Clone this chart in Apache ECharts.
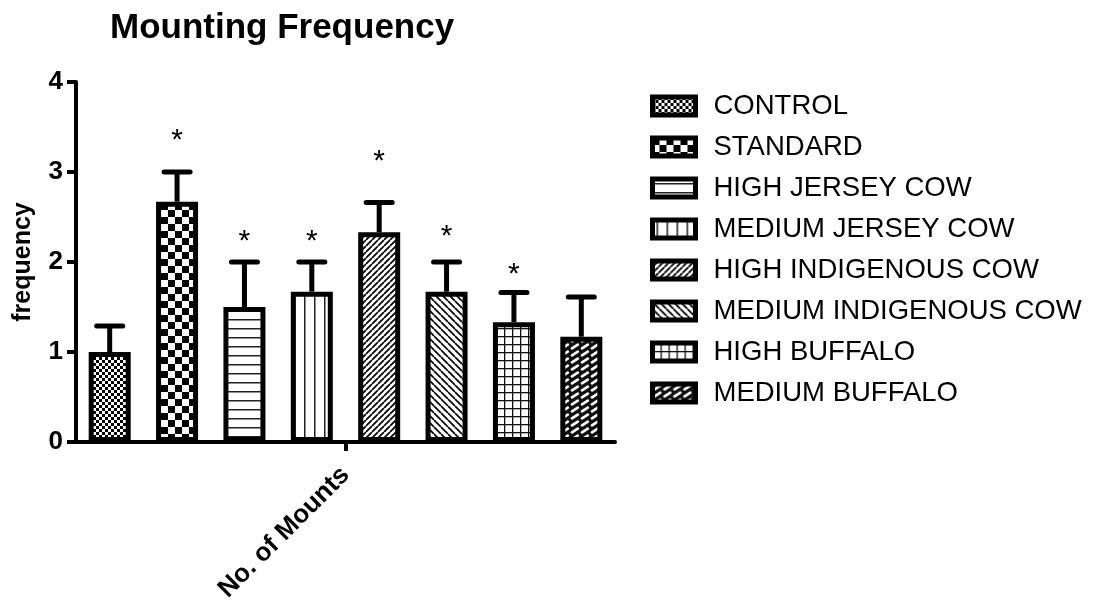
<!DOCTYPE html>
<html>
<head>
<meta charset="utf-8">
<title>Mounting Frequency</title>
<script src="https://cdn.jsdelivr.net/npm/echarts@6/dist/echarts.min.js"></script>
<style>
  html, body { margin: 0; padding: 0; background: #fff; }
  #chart { width: 1103px; height: 605px; }
</style>
</head>
<body>
<div id="chart"></div>
<script>
// Treatment groups, in plotting order
const groups = [
  'CONTROL', 'STANDARD', 'HIGH JERSEY COW', 'MEDIUM JERSEY COW',
  'HIGH INDIGENOUS COW', 'MEDIUM INDIGENOUS COW', 'HIGH BUFFALO', 'MEDIUM BUFFALO'
];
// Mean number of mounts per group
const means = [1.0, 2.67, 1.5, 1.67, 2.33, 1.67, 1.33, 1.17];
// Upper error (SEM) per group
const errors = [0.29, 0.33, 0.5, 0.33, 0.33, 0.33, 0.33, 0.44];
// Height of the significance marker above each group (null = not significant)
const starLevels = [null, 3.43, 2.30, 2.30, 3.19, 2.36, 1.94, null];
// Axis labels and ticks
const xCategory = ['No. of Mounts'];
const yTicks = [0, 1, 2, 3, 4];

const FONT = 'Liberation Sans, Arial, Helvetica, sans-serif';

// Small black-and-white hatch tiles used as bar fills
function tile(w, h, draw, bg) {
  const c = document.createElement('canvas');
  c.width = w; c.height = h;
  const g = c.getContext('2d');
  g.fillStyle = bg || '#fff';
  g.fillRect(0, 0, w, h);
  draw(g, w, h);
  return c;
}
function lines(g, segs, width, color) {
  g.strokeStyle = color || '#000';
  g.lineWidth = width;
  g.beginPath();
  segs.forEach(s => { g.moveTo(s[0], s[1]); g.lineTo(s[2], s[3]); });
  g.stroke();
}
const fills = [
  // fine checker
  tile(6, 6, g => { g.fillStyle = '#000'; g.fillRect(0, 0, 3, 3); g.fillRect(3, 3, 3, 3); }),
  // coarse checker
  tile(14, 14, g => { g.fillStyle = '#000'; g.fillRect(0, 0, 7, 7); g.fillRect(7, 7, 7, 7); }),
  // horizontal lines
  tile(9, 9, g => { g.fillStyle = '#222'; g.fillRect(0, 4, 9, 1.5); }),
  // vertical lines
  tile(10, 10, g => { g.fillStyle = '#222'; g.fillRect(4, 0, 1.5, 10); }),
  // forward diagonal
  tile(6, 6, g => lines(g, [[-6, 6, 0, 0], [0, 6, 6, 0], [6, 6, 12, 0]], 1.7)),
  // backward diagonal
  tile(7, 7, g => lines(g, [[-7, 0, 0, 7], [0, 0, 7, 7], [7, 0, 14, 7]], 1.7)),
  // square grid
  tile(8, 8, g => { g.fillStyle = '#111'; g.fillRect(0, 0, 8, 1.3); g.fillRect(0, 0, 1.3, 8); }),
  // staggered white dashes on black
  tile(10, 7, g => {
    g.lineCap = 'round';
    lines(g, [[2, 5.3, 7.8, 1.7]], 2.6, '#fff');
  }, '#111')
];

const barSeries = groups.map((name, i) => ({
  name: name,
  type: 'bar',
  xAxisIndex: 0,
  barWidth: 42,
  barGap: '-100%',
  data: groups.map((_, j) => (j === i ? means[i] : '-')),
  itemStyle: {
    color: { image: fills[i], repeat: 'repeat' },
    borderColor: '#000',
    borderWidth: 5
  },
  emphasis: { disabled: true },
  z: 2
}));

// Upward error bars with caps
const errorSeries = {
  type: 'custom',
  xAxisIndex: 0,
  data: means.map((m, i) => [i, m, errors[i]]),
  renderItem: function (params, api) {
    const x = api.value(0), m = api.value(1), e = api.value(2);
    const p0 = api.coord([x, m]);
    const p1 = api.coord([x, m + e]);
    const half = 13;
    return {
      type: 'group',
      children: [
        { type: 'line', shape: { x1: p0[0], y1: p0[1], x2: p1[0], y2: p1[1] },
          style: { stroke: '#000', lineWidth: 5 } },
        { type: 'line', shape: { x1: p1[0] - half, y1: p1[1], x2: p1[0] + half, y2: p1[1] },
          style: { stroke: '#000', lineWidth: 5, lineCap: 'round' } }
      ]
    };
  },
  silent: true,
  z: 3
};

// Significance asterisks
const starSeries = {
  type: 'custom',
  xAxisIndex: 0,
  data: starLevels.map((v, i) => (v === null ? null : [i, v])).filter(d => d),
  renderItem: function (params, api) {
    const p = api.coord([api.value(0), api.value(1)]);
    return {
      type: 'text',
      x: p[0],
      y: p[1] + 7,
      style: {
        text: '*',
        fill: '#000',
        font: '30px ' + FONT,
        textAlign: 'center',
        textVerticalAlign: 'middle'
      }
    };
  },
  silent: true,
  z: 4
};

const chart = echarts.init(document.getElementById('chart'), null, { renderer: 'canvas' });
chart.setOption({
  backgroundColor: '#fff',
  animation: false,
  title: {
    text: 'Mounting Frequency',
    left: 110,
    top: 11,
    padding: 0,
    textStyle: { fontFamily: FONT, fontSize: 35, fontWeight: 'bold', color: '#000', lineHeight: 35 }
  },
  legend: {
    data: groups,
    orient: 'vertical',
    left: 650,
    top: 92,
    padding: 0,
    icon: 'rect',
    itemWidth: 43,
    itemHeight: 18,
    itemGap: 13,
    selectedMode: false,
    itemStyle: { borderColor: '#000', borderWidth: 5 },
    textStyle: { fontFamily: FONT, fontSize: 27.5, color: '#000', lineHeight: 27, padding: [0, 0, 0, 13] }
  },
  grid: { left: 76, right: 488, top: 82, bottom: 163, containLabel: false },
  xAxis: [
    {
      type: 'category',
      data: groups,
      position: 'bottom',
      axisLine: { show: true, lineStyle: { color: '#000', width: 4 } },
      axisTick: { show: false },
      axisLabel: { show: false },
      splitLine: { show: false }
    },
    {
      type: 'category',
      data: xCategory,
      position: 'bottom',
      axisLine: { show: false },
      axisTick: { show: true, alignWithLabel: true, length: 9, lineStyle: { color: '#000', width: 4 } },
      axisLabel: {
        rotate: 45, margin: 29,
        fontFamily: FONT, fontSize: 26, fontWeight: 'bold', color: '#000'
      },
      splitLine: { show: false }
    }
  ],
  yAxis: {
    type: 'value',
    min: yTicks[0],
    max: yTicks[yTicks.length - 1],
    interval: 1,
    name: 'frequency',
    nameLocation: 'middle',
    nameRotate: 90,
    nameGap: 40,
    nameTextStyle: { fontFamily: FONT, fontSize: 25, fontWeight: 'bold', color: '#000' },
    axisLine: { show: true, lineStyle: { color: '#000', width: 4 } },
    axisTick: { show: true, inside: false, length: 9, lineStyle: { color: '#000', width: 4 } },
    axisLabel: { margin: 13, fontFamily: FONT, fontSize: 26, fontWeight: 'bold', color: '#000' },
    splitLine: { show: false }
  },
  series: barSeries.concat([errorSeries, starSeries])
});
</script>
</body>
</html>
